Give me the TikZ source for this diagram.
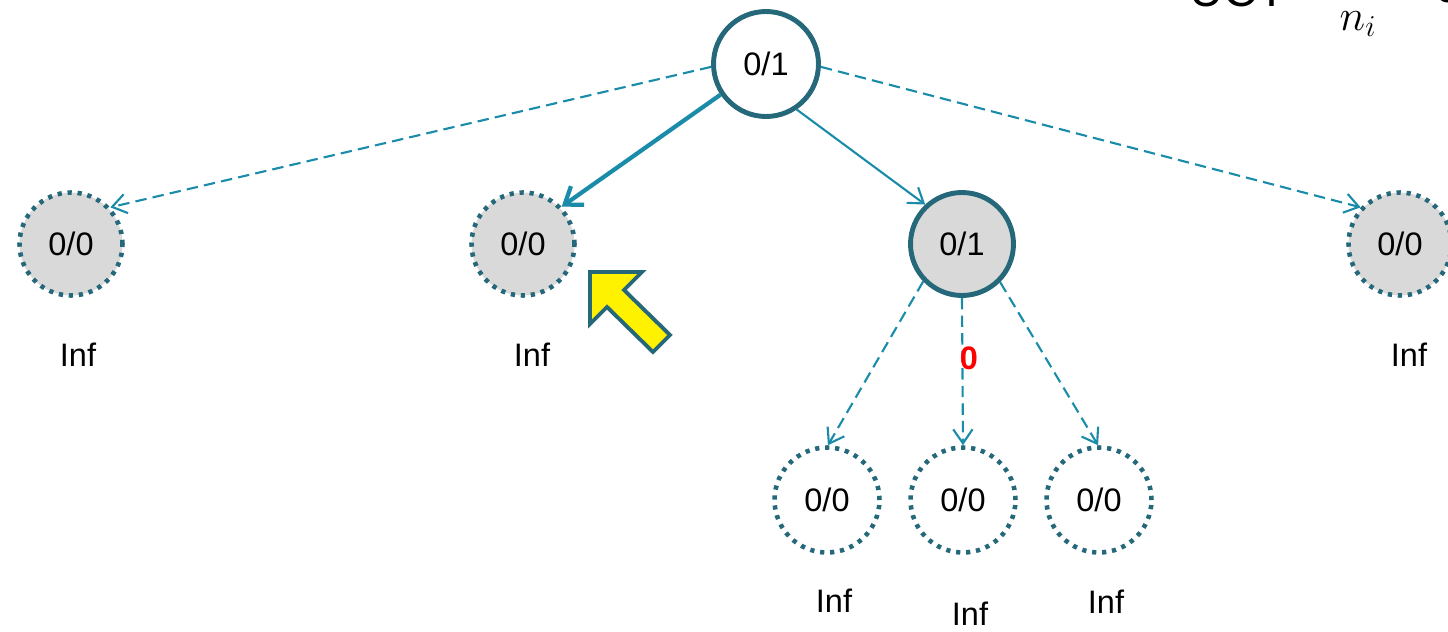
\documentclass[tikz,border=0pt]{standalone}
\usepackage{fontspec}
\setmainfont{Liberation Sans}
\usetikzlibrary{arrows.meta}
\definecolor{ringteal}{RGB}{36,104,122}
\definecolor{edgeteal}{RGB}{26,140,170}
\definecolor{nodegray}{RGB}{217,217,217}

\begin{document}
\begin{tikzpicture}[
  x=0.02cm,y=-0.02cm,
  font=\fontsize{18.5}{22}\selectfont,
  tip/.style={-{Straight Barb[length=8pt,width=11pt]}},
  done/.style={circle,draw=ringteal,line width=2.8pt,minimum size=2.1cm,inner sep=0pt},
  open/.style={circle,draw=ringteal,line width=2.6pt,dash pattern=on 2.4pt off 3.3pt,minimum size=2.06cm,inner sep=0pt},
  solidedge/.style={tip,draw=edgeteal,line width=1.2pt},
  dashedge/.style={tip,draw=edgeteal,line width=1.2pt,dash pattern=on 6.5pt off 3.5pt},
  bestedge/.style={-{Straight Barb[length=9pt,width=13pt]},draw=edgeteal,line width=2.4pt},
  pointer/.style={draw=ringteal,fill=yellow,line width=2.2pt,line join=miter}
]
\useasboundingbox (0,0) rectangle (1448,632);

% formula cut off at the top edge
\begin{scope}
\clip (0,0) rectangle (1448,632);
\node[anchor=base west,font=\fontsize{27}{30}\selectfont] (uct) at (1183,7) {UCT =};
\node[anchor=base west,font=\fontsize{27}{30}\selectfont] (plus) at (1388,3) {+ c};
\end{scope}
\node[font=\fontsize{23}{26}\selectfont,inner sep=0pt] (ni) at (1358,24) {$n_i$};

% tree
\node[done,fill=white] (root) at (766,64) {0/1};
\node[open,fill=nodegray] (a) at (71,244) {0/0};
\node[open,fill=nodegray] (b) at (523,244) {0/0};
\node[done,fill=nodegray,minimum size=2.06cm] (c) at (962,244) {0/1};
\node[open,fill=nodegray] (d) at (1400,244) {0/0};
\node[open,fill=white,minimum size=2.1cm] (c1) at (827,500) {0/0};
\node[open,fill=white,minimum size=2.1cm] (c2) at (963,500) {0/0};
\node[open,fill=white,minimum size=2.1cm] (c3) at (1099,500) {0/0};

\node (infa) at (78,355) {Inf};
\node (infb) at (532,355) {Inf};
\node (infd) at (1409,355) {Inf};
\node (infc1) at (834,601) {Inf};
\node (infc2) at (970,614) {Inf};
\node (infc3) at (1106,602) {Inf};

\draw[dashedge] (root.183) -- (a.43);
\draw[bestedge] (root.214) -- (b.44);
\draw[solidedge] (root.304) -- (c.133);
\draw[dashedge] (root.357) -- (d.137);
\draw[dashedge] (c.224) -- (c1.89);
\draw[dashedge] (c.south) -- (c2.north);
\draw[dashedge] (c.315) -- (c3.91);

\node[text=red,font=\fontsize{18.5}{22}\selectfont\bfseries] (score) at (969,358) {0};

% yellow pointer
\draw[pointer] (590,272) -- (642,272) -- (624,290) -- (670,335) -- (653,352)
  -- (607,307) -- (590,324) -- cycle;
\end{tikzpicture}
\end{document}
